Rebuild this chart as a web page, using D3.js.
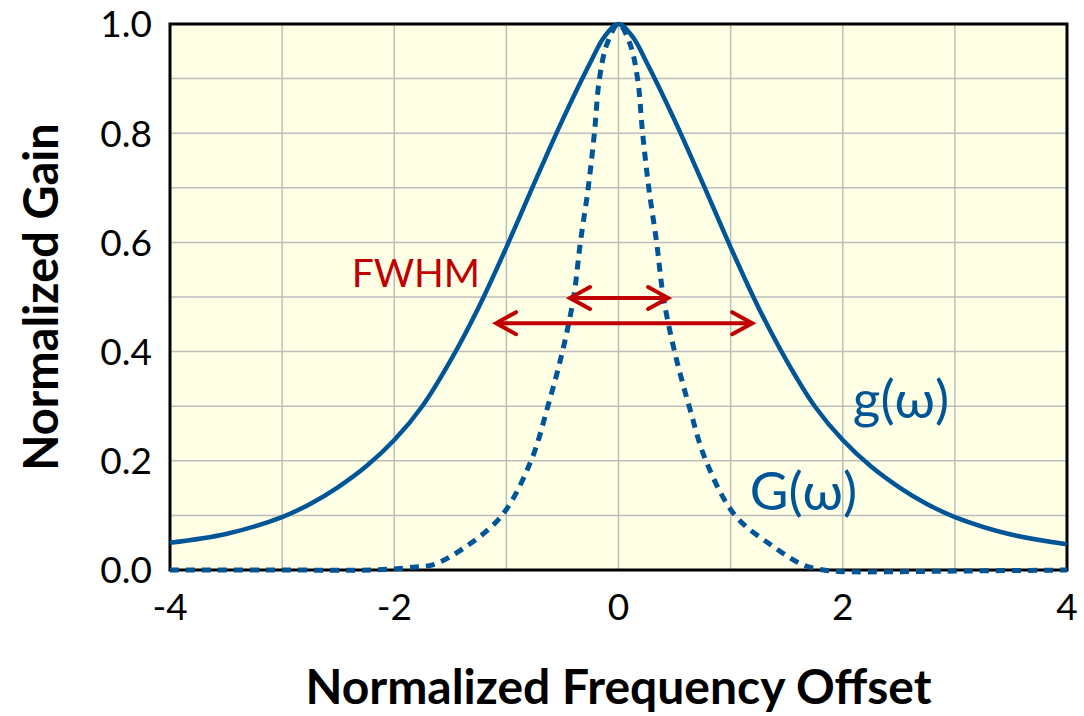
<!DOCTYPE html>
<html>
<head>
<meta charset="utf-8">
<script src="https://cdn.jsdelivr.net/npm/d3@7"></script>
<style>
    body { margin: 0; background: #ffffff; }
    svg { display: block; font-family: Lato, 'Open Sans', sans-serif; }
</style>
</head>
<body>
<svg id="drawing_region"></svg>
<script>
// g(w) - solid curve
const g_x = [-4, -3.5, -3, -2.75, -2.5, -2.25, -2, -1.75, -1.5, -1.25, -1, -0.75, -0.5, -0.25, -0.125, 0,
             0.125, 0.25, 0.5, 0.75, 1, 1.25, 1.5, 1.75, 2, 2.25, 2.5, 2.75, 3, 3.5, 4];
const g_y = [0.05, 0.066, 0.097, 0.121, 0.152, 0.19, 0.238, 0.30, 0.383, 0.48, 0.591, 0.709, 0.824, 0.93, 0.977, 1.0,
             0.977, 0.93, 0.824, 0.709, 0.591, 0.48, 0.383, 0.30, 0.238, 0.19, 0.152, 0.121, 0.097, 0.065, 0.047];

// G(w) - dotted curve
const G_x = [-4, -3, -2.2, -1.83, -1.65, -1.38, -1.04, -0.78, -0.63, -0.5, -0.4, -0.34, -0.27, -0.215, -0.17, -0.1, 0,
             0.1, 0.17, 0.215, 0.27, 0.34, 0.4, 0.5, 0.63, 0.78, 1.04, 1.38, 1.65, 1.83, 2.0, 2.5, 3, 4];
const G_y = [0, 0, 0, 0.005, 0.01, 0.04, 0.10, 0.20, 0.30, 0.40, 0.50, 0.60, 0.70, 0.80, 0.90, 0.965, 1.0,
             0.965, 0.90, 0.80, 0.70, 0.60, 0.50, 0.40, 0.30, 0.20, 0.10, 0.043, 0.009, 0.0, -0.003, -0.003, -0.002, 0];

const x_ticks = [-4, -2, 0, 2, 4];
const y_ticks = [0, 0.2, 0.4, 0.6, 0.8, 1.0];
const x_grid = [-3, -2, -1, 0, 1, 2, 3];
const y_grid = [0.1, 0.2, 0.3, 0.4, 0.5, 0.6, 0.7, 0.8, 0.9];

// FWHM arrows (narrow one for G, wide one for g)
const fwhm_y  = [0.498, 0.452];
const fwhm_x0 = [-0.45, -1.11];
const fwhm_x1 = [0.46, 1.21];

const label_text = ["FWHM", "g(\u03c9)", "G(\u03c9)"];
const label_x = [-2.38, 2.09, 1.17];
const label_y = [0.518, 0.278, 0.11];

const blue = '#005597';
const red = '#c00000';

class GainChart {

    constructor( config ) {
        this.config = {
            parent: config.parent,
            width : config.width,
            height: config.height,
            margin: config.margin
        }
        this.init();
    }

    init() {
        let self = this;

        self.svg = d3.select( self.config.parent )
            .attr('width', self.config.width)
            .attr('height', self.config.height);

        self.chart = self.svg.append('g')
            .attr('transform', `translate(${self.config.margin.left}, ${self.config.margin.top})`);

        self.inner_width = self.config.width - self.config.margin.left - self.config.margin.right;
        self.inner_height = self.config.height - self.config.margin.top - self.config.margin.bottom;

        self.xscale = d3.scaleLinear()
            .domain([-4, 4])
            .range([0, self.inner_width]);

        self.yscale = d3.scaleLinear()
            .domain([0, 1])
            .range([self.inner_height, 0]);

        self.line = d3.line()
            .x( d => self.xscale(d[0]) )
            .y( d => self.yscale(d[1]) )
            .curve( d3.curveCatmullRom.alpha(0.5) );

        const defs = self.svg.append('defs');
        defs.append('marker')
            .attr('id', 'head')
            .attr('markerUnits', 'userSpaceOnUse')
            .attr('viewBox', '-24 -14 28 28')
            .attr('markerWidth', 28)
            .attr('markerHeight', 28)
            .attr('refX', 0)
            .attr('refY', 0)
            .attr('orient', 'auto-start-reverse')
            .append('path')
            .attr('d', 'M-20,-11 L0,0 L-20,11')
            .attr('fill', 'none')
            .attr('stroke', red)
            .attr('stroke-width', 4)
            .attr('stroke-linecap', 'round')
            .attr('stroke-linejoin', 'miter');
    }

    render() {
        let self = this;

        // plot background
        self.chart.append('rect')
            .attr('x', 0)
            .attr('y', 0)
            .attr('width', self.inner_width)
            .attr('height', self.inner_height)
            .attr('fill', '#ffffe6');

        // grid
        self.chart.selectAll('.vgrid')
            .data(x_grid)
            .enter()
            .append('line')
            .attr('x1', d => self.xscale(d))
            .attr('x2', d => self.xscale(d))
            .attr('y1', 0)
            .attr('y2', self.inner_height)
            .attr('stroke', '#bdbdbd')
            .attr('stroke-width', 1.5);

        self.chart.selectAll('.hgrid')
            .data(y_grid)
            .enter()
            .append('line')
            .attr('x1', 0)
            .attr('x2', self.inner_width)
            .attr('y1', d => self.yscale(d))
            .attr('y2', d => self.yscale(d))
            .attr('stroke', '#bdbdbd')
            .attr('stroke-width', 1.5);

        // frame
        self.chart.append('rect')
            .attr('x', 0)
            .attr('y', 0)
            .attr('width', self.inner_width)
            .attr('height', self.inner_height)
            .attr('fill', 'none')
            .attr('stroke', '#000')
            .attr('stroke-width', 3);

        // tick labels
        self.chart.selectAll('.ylab')
            .data(y_ticks)
            .enter()
            .append('text')
            .attr('x', -18)
            .attr('y', d => self.yscale(d))
            .attr('dy', '0.36em')
            .attr('text-anchor', 'end')
            .attr('font-size', '37px')
            .attr('fill', '#000')
            .text(d => d3.format('.1f')(d));

        self.chart.selectAll('.xlab')
            .data(x_ticks)
            .enter()
            .append('text')
            .attr('x', d => self.xscale(d))
            .attr('y', self.inner_height + 37)
            .attr('dy', '0.36em')
            .attr('text-anchor', 'middle')
            .attr('font-size', '37px')
            .attr('fill', '#000')
            .text(d => d);

        // axis titles
        self.svg.append('text')
            .attr('transform', `translate(58, ${self.config.margin.top + self.inner_height/2}) rotate(-90)`)
            .attr('text-anchor', 'middle')
            .attr('font-size', '47px')
            .attr('font-weight', 'bold')
            .text('Normalized Gain');

        self.svg.append('text')
            .attr('x', self.config.margin.left + self.inner_width/2)
            .attr('y', 704)
            .attr('text-anchor', 'middle')
            .attr('font-size', '48px')
            .attr('font-weight', 'bold')
            .text('Normalized Frequency Offset');

        // curves
        self.chart.append('path')
            .attr('d', self.line(d3.zip(G_x, G_y)))
            .attr('fill', 'none')
            .attr('stroke', blue)
            .attr('stroke-width', 5)
            .attr('stroke-dasharray', '9,7');

        self.chart.append('path')
            .attr('d', self.line(d3.zip(g_x, g_y)))
            .attr('fill', 'none')
            .attr('stroke', blue)
            .attr('stroke-width', 4.5);

        // FWHM arrows
        self.chart.selectAll('.arrow')
            .data(d3.range(fwhm_y.length))
            .enter()
            .append('line')
            .attr('x1', i => self.xscale(fwhm_x0[i]) + 2)
            .attr('x2', i => self.xscale(fwhm_x1[i]) - 2)
            .attr('y1', i => self.yscale(fwhm_y[i]))
            .attr('y2', i => self.yscale(fwhm_y[i]))
            .attr('stroke', red)
            .attr('stroke-width', 4)
            .attr('marker-start', 'url(#head)')
            .attr('marker-end', 'url(#head)');

        // labels
        const sizes = [39, 53, 53];
        const colors = [red, blue, blue];
        self.chart.selectAll('.label')
            .data(label_text)
            .enter()
            .append('text')
            .attr('x', (d, i) => self.xscale(label_x[i]))
            .attr('y', (d, i) => self.yscale(label_y[i]))
            .attr('font-size', (d, i) => sizes[i] + 'px')
            .attr('fill', (d, i) => colors[i])
            .text(d => d);
    }
}

const chart = new GainChart({
    parent: '#drawing_region',
    width: 1084,
    height: 716,
    margin: {top: 24, right: 17, bottom: 146, left: 170}
});
chart.render();
</script>
</body>
</html>
